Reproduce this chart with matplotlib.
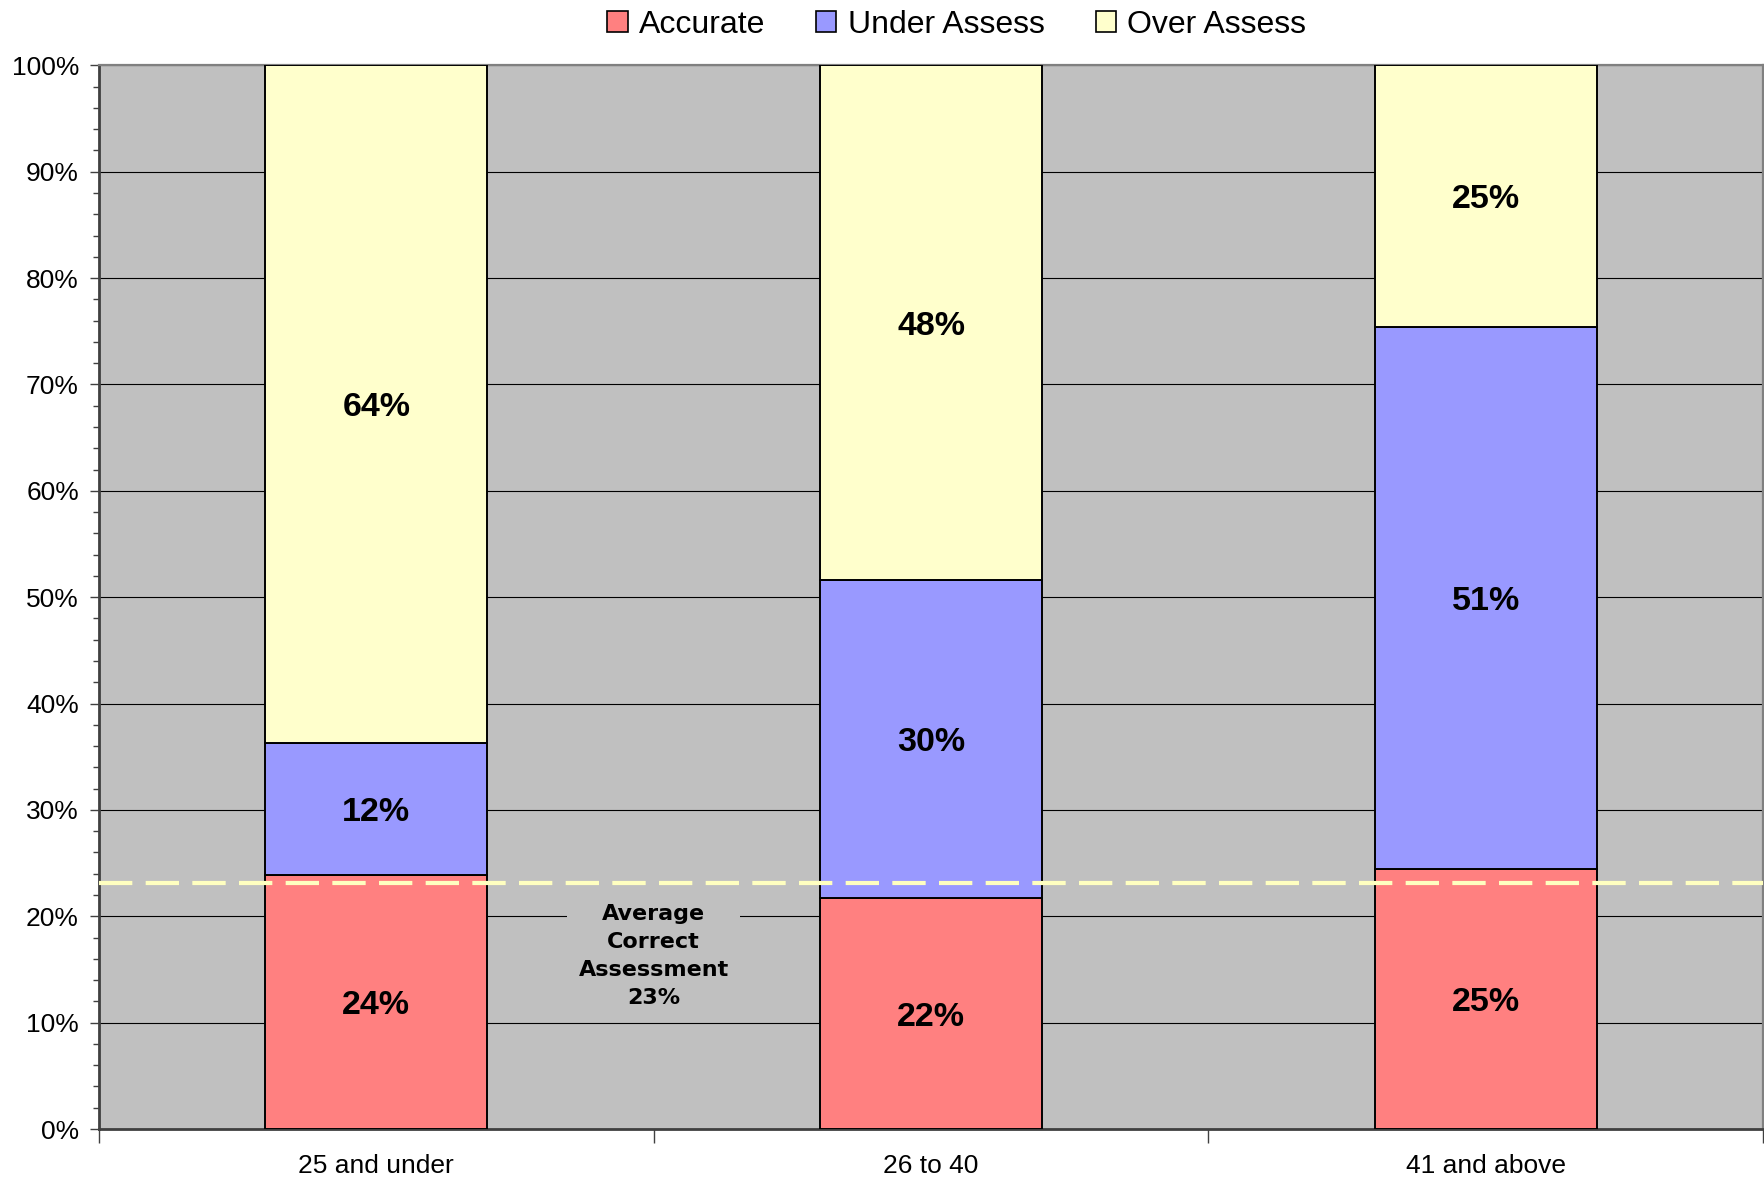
import matplotlib
matplotlib.use("Agg")
import matplotlib.pyplot as plt
from matplotlib.patches import Patch
from matplotlib.ticker import MultipleLocator, FuncFormatter

categories = ["25 and under", "26 to 40", "41 and above"]
accurate = [23.9, 21.7, 24.4]
under_assess = [12.4, 29.9, 51.0]
over_assess = [63.7, 48.4, 24.6]
acc_labels = ["24%", "22%", "25%"]
under_labels = ["12%", "30%", "51%"]
over_labels = ["64%", "48%", "25%"]
avg_correct = 23.1
avg_text = "Average\nCorrect\nAssessment\n23%"

series_names = ["Accurate", "Under Assess", "Over Assess"]
colors = ["#FF8080", "#9999FF", "#FFFFCC"]

plt.rcParams['font.family'] = ['Liberation Sans', 'DejaVu Sans']

fig = plt.figure(figsize=(17.65, 11.81), dpi=100)
ax = fig.add_axes([0.0561, 0.044, 0.9428, 0.9007])
ax.set_facecolor("#C0C0C0")

x = list(range(len(categories)))
w = 0.4
b1 = ax.bar(x, accurate, w, color=colors[0], edgecolor="black", linewidth=1.4, zorder=3)
bottom2 = accurate
b2 = ax.bar(x, under_assess, w, bottom=bottom2, color=colors[1], edgecolor="black", linewidth=1.4, zorder=3)
bottom3 = [a + u for a, u in zip(accurate, under_assess)]
b3 = ax.bar(x, over_assess, w, bottom=bottom3, color=colors[2], edgecolor="black", linewidth=1.4, zorder=3)

for bars, labs in [(b1, acc_labels), (b2, under_labels), (b3, over_labels)]:
    for rect, lab in zip(bars, labs):
        cx = rect.get_x() + rect.get_width() / 2
        cy = rect.get_y() + rect.get_height() / 2
        ax.annotate(lab, (cx, cy), xytext=(0, -2.5), textcoords="offset points",
                    ha="center", va="center", fontsize=24.5,
                    fontweight="bold", zorder=5)

ax.axhline(avg_correct, color="#FFFFC0", linewidth=3, dashes=(8, 3.2), zorder=4)

ax.text(0.5, 16.3, avg_text, ha="center", va="center", fontsize=16,
        fontweight="bold", family="DejaVu Sans", linespacing=1.5, zorder=4,
        bbox=dict(facecolor="#C0C0C0", edgecolor="none", pad=8))

ax.set_xlim(-0.5, 2.5)
ax.set_ylim(0, 100)

ax.yaxis.set_major_locator(MultipleLocator(10))
ax.yaxis.set_minor_locator(MultipleLocator(2))
ax.yaxis.set_major_formatter(FuncFormatter(lambda v, p: f"{int(round(v))}%"))
ax.grid(axis="y", which="major", color="black", linewidth=0.8, zorder=1)
ax.set_axisbelow(True)

ax.set_xticks(x)
ax.set_xticklabels(categories)
ax.set_xticks([-0.5, 0.5, 1.5, 2.5], minor=True)
ax.tick_params(axis="x", which="major", length=0, pad=18, labelsize=19)
ax.tick_params(axis="x", which="minor", length=10, width=1, color="#404040", direction="out")
ax.tick_params(axis="y", which="major", length=6.5, width=1, color="#404040", pad=8, labelsize=19)
ax.tick_params(axis="y", which="minor", length=4.5, width=1, color="#404040")

for s in ["left", "bottom"]:
    ax.spines[s].set_color("#404040")
    ax.spines[s].set_linewidth(2)
for s in ["top", "right"]:
    ax.spines[s].set_color("#808080")
    ax.spines[s].set_linewidth(1.6)

handles = [Patch(facecolor=c, edgecolor="black", linewidth=1.2) for c in colors]
fig.legend(handles, series_names, loc="center", bbox_to_anchor=(0.542, 0.979),
           ncol=3, frameon=False, fontsize=23, handlelength=0.63, handleheight=0.63,
           handletextpad=0.35, columnspacing=1.6, borderpad=0, borderaxespad=0)

fig.savefig("out.png", dpi=100)
